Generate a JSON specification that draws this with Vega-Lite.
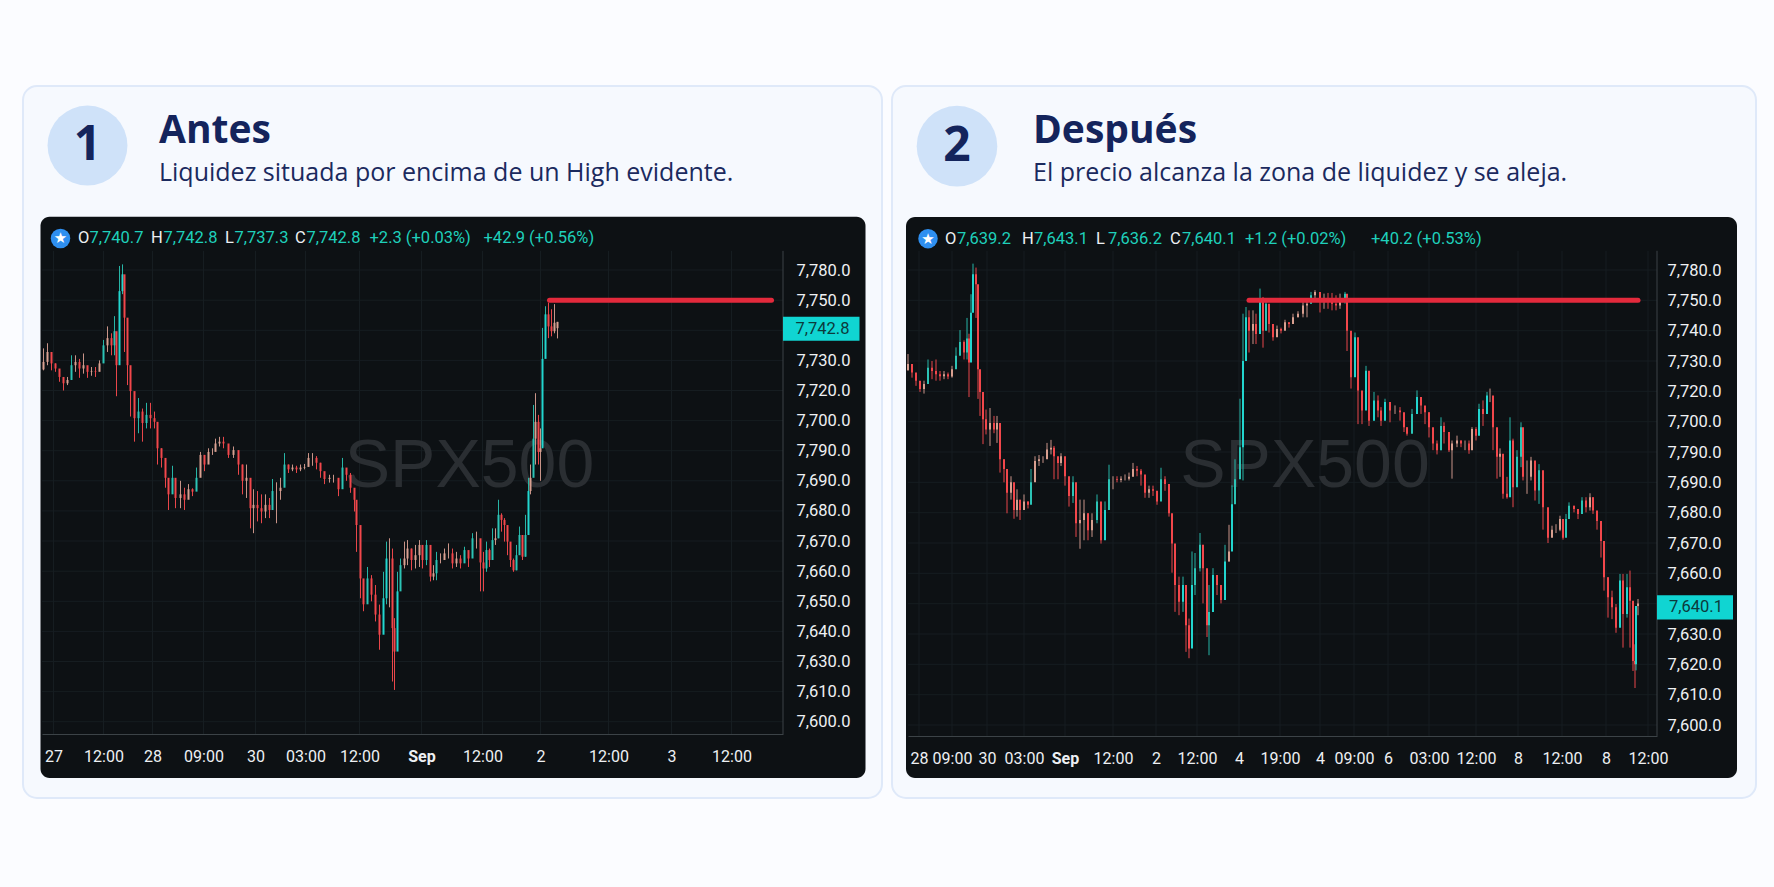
{"$schema":"https://vega.github.io/schema/vega-lite/v6.json","background":"#fbfcff","padding":{"left":22,"top":85,"right":21,"bottom":90},"spacing":8,
"config":{"axis":{"grid":false,"ticks":false,"title":null,"labelColor":"#eef0f3","labelFont":"Roboto","labelOverlap":false,"labelBound":false,"labelFlush":false,"domainColor":"#3c4347"},"text":{"font":"Roboto"}},
"data":{"values":[{"panel":"card"}]},
"datasets":{
"gy1":[{"v":7600},{"v":7610},{"v":7630},{"v":7640},{"v":7650},{"v":7660},{"v":7670},{"v":7680},{"v":7690},{"v":7695},{"v":7700},{"v":7720},{"v":7730},{"v":7740},{"v":7750},{"v":7780}],
"gx1":[{"v":13},{"v":63},{"v":112},{"v":163},{"v":215},{"v":265},{"v":319},{"v":381},{"v":442},{"v":500},{"v":568},{"v":631},{"v":691}],
"gy2":[{"v":7600},{"v":7610},{"v":7620},{"v":7630},{"v":7640},{"v":7660},{"v":7670},{"v":7680},{"v":7690},{"v":7695},{"v":7700},{"v":7720},{"v":7730},{"v":7740},{"v":7750},{"v":7780}],
"gx2":[{"v":12},{"v":45},{"v":80},{"v":117},{"v":158},{"v":206},{"v":249},{"v":290},{"v":332},{"v":373},{"v":413},{"v":447},{"v":481},{"v":522},{"v":569},{"v":611},{"v":655},{"v":699},{"v":741}],
"p1":[
{"t":3,"o":7727,"h":7734,"l":7726.7,"c":7729.5},{"t":7,"o":7729.5,"h":7735.7,"l":7728.4,"c":7732.8},{"t":11,"o":7732.8,"h":7731.7,"l":7726.7,"c":7729},{"t":15,"o":7729,"h":7729,"l":7726.2,"c":7727.3},{"t":19,"o":7727.3,"h":7726.7,"l":7722.9,"c":7724.5},{"t":23,"o":7724.5,"h":7724.2,"l":7720,"c":7722.4},{"t":27,"o":7722.4,"h":7724.5,"l":7721.8,"c":7723.5},{"t":31,"o":7723.5,"h":7731.7,"l":7723.5,"c":7728.4},{"t":35,"o":7728.4,"h":7731.7,"l":7726.2,"c":7729.5},{"t":39,"o":7729.5,"h":7730.5,"l":7724.2,"c":7727.3},{"t":43,"o":7727.3,"h":7732.3,"l":7725.6,"c":7728.4},{"t":47,"o":7728.4,"h":7727.8,"l":7724.2,"c":7726.2},{"t":51,"o":7726.2,"h":7727.8,"l":7724.9,"c":7726.4},{"t":55,"o":7726.4,"h":7727.8,"l":7724.5,"c":7726.2},{"t":59,"o":7726.2,"h":7730,"l":7727,"c":7729},{"t":63,"o":7729,"h":7736.8,"l":7730,"c":7735},{"t":67,"o":7735,"h":7741.3,"l":7732.8,"c":7737.4},{"t":71,"o":7737.4,"h":7739,"l":7731.7,"c":7735},{"t":74,"o":7735,"h":7744.7,"l":7731.7,"c":7739.7},{"t":76,"o":7739.7,"h":7734,"l":7716.2,"c":7728.4},{"t":79,"o":7728.4,"h":7784,"l":7745.3,"c":7759},{"t":82,"o":7759,"h":7785.6,"l":7756,"c":7775.7},{"t":84,"o":7775.7,"h":7759,"l":7732.8,"c":7744.2},{"t":87,"o":7744.2,"h":7734,"l":7721.8,"c":7728.4},{"t":90,"o":7728.4,"h":7723.5,"l":7702.7,"c":7719.6},{"t":94,"o":7719.6,"h":7715,"l":7696.5,"c":7701.6},{"t":98,"o":7701.6,"h":7715,"l":7697.9,"c":7706},{"t":102,"o":7706,"h":7708,"l":7696.5,"c":7699.6},{"t":106,"o":7699.6,"h":7711.8,"l":7698.7,"c":7703.8},{"t":110,"o":7703.8,"h":7711.8,"l":7698.7,"c":7701.6},{"t":114,"o":7701.6,"h":7706,"l":7698.7,"c":7699.8},{"t":117,"o":7699.8,"h":7697,"l":7692.7,"c":7695.4},{"t":121,"o":7695.4,"h":7695.4,"l":7692.2,"c":7693.8},{"t":125,"o":7693.8,"h":7692.7,"l":7687.7,"c":7690.5},{"t":128,"o":7690.5,"h":7690,"l":7680.3,"c":7685.5},{"t":132,"o":7685.5,"h":7692.5,"l":7686.6,"c":7690.5},{"t":135,"o":7690.5,"h":7688.9,"l":7680.9,"c":7684.3},{"t":140,"o":7684.3,"h":7690,"l":7680.9,"c":7685.5},{"t":144,"o":7685.5,"h":7687.7,"l":7680.3,"c":7683.7},{"t":148,"o":7683.7,"h":7688.9,"l":7685.5,"c":7687.2},{"t":152,"o":7687.2,"h":7687.5,"l":7684.9,"c":7686.4},{"t":156,"o":7686.4,"h":7692.2,"l":7686.6,"c":7690.5},{"t":160,"o":7690.5,"h":7694.8,"l":7692.2,"c":7694.3},{"t":164,"o":7694.3,"h":7694.3,"l":7691.6,"c":7692.7},{"t":168,"o":7692.7,"h":7695.4,"l":7694.3,"c":7694.8},{"t":172,"o":7694.8,"h":7695.4,"l":7694.3,"c":7694.8},{"t":175,"o":7694.8,"h":7697,"l":7695.4,"c":7696.2},{"t":179,"o":7696.2,"h":7697.3,"l":7695.7,"c":7696.5},{"t":183,"o":7696.5,"h":7697.3,"l":7695.4,"c":7696.2},{"t":188,"o":7696.2,"h":7695.1,"l":7693.8,"c":7694.3},{"t":193,"o":7694.3,"h":7695.7,"l":7693.8,"c":7695.1},{"t":198,"o":7695.1,"h":7694.8,"l":7691,"c":7692.7},{"t":202,"o":7692.7,"h":7692.7,"l":7685.5,"c":7690},{"t":206,"o":7690,"h":7692.7,"l":7684.3,"c":7690.5},{"t":210,"o":7690.5,"h":7687.7,"l":7674.2,"c":7680.9},{"t":213,"o":7680.9,"h":7687.2,"l":7672.6,"c":7682},{"t":217,"o":7682,"h":7686.6,"l":7676.5,"c":7680.9},{"t":221,"o":7680.9,"h":7685.5,"l":7675.9,"c":7679.8},{"t":225,"o":7679.8,"h":7685.5,"l":7677.6,"c":7682},{"t":229,"o":7682,"h":7684.3,"l":7677.6,"c":7680.3},{"t":232,"o":7680.3,"h":7690.3,"l":7680.9,"c":7686.6},{"t":236,"o":7686.6,"h":7689.5,"l":7675.9,"c":7686.6},{"t":240,"o":7686.6,"h":7690.5,"l":7683.7,"c":7687.7},{"t":244,"o":7687.7,"h":7694.6,"l":7690.5,"c":7692.7},{"t":248,"o":7692.7,"h":7692.7,"l":7691.3,"c":7691.9},{"t":252,"o":7691.9,"h":7692.7,"l":7691.6,"c":7692.2},{"t":256,"o":7692.2,"h":7692.5,"l":7691.3,"c":7691.9},{"t":260,"o":7691.9,"h":7692.7,"l":7691.6,"c":7692.2},{"t":264,"o":7692.2,"h":7692.8,"l":7691.9,"c":7692.3},{"t":268,"o":7692.3,"h":7694.6,"l":7692.5,"c":7693.8},{"t":272,"o":7693.8,"h":7694.6,"l":7692.5,"c":7693.8},{"t":276,"o":7693.8,"h":7694.1,"l":7691.9,"c":7693},{"t":280,"o":7693,"h":7693,"l":7690.5,"c":7691.6},{"t":284,"o":7691.6,"h":7691.3,"l":7688.9,"c":7690.3},{"t":289,"o":7690.3,"h":7691,"l":7689.4,"c":7690.5},{"t":293,"o":7690.5,"h":7691,"l":7689.4,"c":7690.5},{"t":298,"o":7690.5,"h":7689.4,"l":7684.9,"c":7687.2},{"t":302,"o":7687.2,"h":7693.8,"l":7688.9,"c":7692.2},{"t":306,"o":7692.2,"h":7691.6,"l":7690,"c":7691},{"t":310,"o":7691,"h":7691.3,"l":7686,"c":7687.7},{"t":314,"o":7687.7,"h":7686.6,"l":7679.8,"c":7683.7},{"t":316,"o":7683.7,"h":7680.9,"l":7666.4,"c":7675.3},
{"t":320,"o":7675.3,"h":7669.8,"l":7651,"c":7657.6},{"t":323,"o":7657.6,"h":7655.4,"l":7646.7,"c":7649},{"t":327,"o":7649,"h":7661.4,"l":7650.5,"c":7657.6},{"t":331,"o":7657.6,"h":7658.7,"l":7650,"c":7652.2},{"t":335,"o":7652.2,"h":7655.4,"l":7643.3,"c":7645.6},{"t":339,"o":7645.6,"h":7648.9,"l":7633.9,"c":7638.9},{"t":343,"o":7638.9,"h":7659.8,"l":7644.4,"c":7651},{"t":346,"o":7651,"h":7669.8,"l":7649,"c":7664.2},{"t":349,"o":7664.2,"h":7670.9,"l":7648,"c":7664.2},{"t":352,"o":7664.2,"h":7667.5,"l":7616.7,"c":7641.1},{"t":354,"o":7641.1,"h":7644.4,"l":7611.1,"c":7633.3},{"t":357,"o":7633.3,"h":7659.8,"l":7635.6,"c":7653.3},{"t":360,"o":7653.3,"h":7664.2,"l":7655.4,"c":7662},{"t":364,"o":7662,"h":7669.8,"l":7660.9,"c":7664.2},{"t":367,"o":7664.2,"h":7670.3,"l":7662,"c":7667.5},{"t":371,"o":7667.5,"h":7667.5,"l":7660.3,"c":7663.7},{"t":375,"o":7663.7,"h":7668.7,"l":7660.9,"c":7665.3},{"t":379,"o":7665.3,"h":7670.3,"l":7661.4,"c":7668.7},{"t":382,"o":7668.7,"h":7667,"l":7660.9,"c":7663.7},{"t":386,"o":7663.7,"h":7670.3,"l":7662,"c":7668.7},{"t":390,"o":7668.7,"h":7666.4,"l":7656.6,"c":7658.2},{"t":393,"o":7658.2,"h":7662,"l":7657,"c":7659.3},{"t":396,"o":7659.3,"h":7666.4,"l":7657,"c":7663.7},{"t":400,"o":7663.7,"h":7665.9,"l":7662.6,"c":7663.7},{"t":404,"o":7663.7,"h":7667.5,"l":7663.7,"c":7665.9},{"t":408,"o":7665.9,"h":7669.2,"l":7664.2,"c":7665.9},{"t":412,"o":7665.9,"h":7667.5,"l":7660.9,"c":7662.6},{"t":416,"o":7662.6,"h":7666.4,"l":7661.4,"c":7664.2},{"t":420,"o":7664.2,"h":7665.3,"l":7660.9,"c":7662.6},{"t":424,"o":7662.6,"h":7668.1,"l":7663.2,"c":7667},{"t":428,"o":7667,"h":7666.4,"l":7661.4,"c":7664.2},{"t":432,"o":7664.2,"h":7672.6,"l":7667.5,"c":7670.9},{"t":436,"o":7670.9,"h":7673.1,"l":7667.5,"c":7670.9},{"t":440,"o":7670.9,"h":7669.8,"l":7653.3,"c":7662.9},{"t":443,"o":7662.9,"h":7666.4,"l":7653.3,"c":7660.9},{"t":446,"o":7660.9,"h":7669.8,"l":7659.8,"c":7667},{"t":449,"o":7667,"h":7667.5,"l":7661.4,"c":7663.7},{"t":452,"o":7663.7,"h":7674.2,"l":7665.9,"c":7670.3},{"t":455,"o":7670.3,"h":7674.2,"l":7668.7,"c":7670.9},{"t":458,"o":7670.9,"h":7683.7,"l":7670.9,"c":7678.7},{"t":461,"o":7678.7,"h":7679.2,"l":7673.1,"c":7677},{"t":464,"o":7677,"h":7677.6,"l":7669.8,"c":7675.3},{"t":467,"o":7675.3,"h":7674.2,"l":7665.3,"c":7669.8},{"t":470,"o":7669.8,"h":7668.7,"l":7661.4,"c":7663.7},{"t":473,"o":7663.7,"h":7664.2,"l":7659.8,"c":7660.3},{"t":476,"o":7660.3,"h":7668.7,"l":7660.3,"c":7665.3},{"t":479,"o":7665.3,"h":7674.8,"l":7666.4,"c":7672},{"t":482,"o":7672,"h":7668.7,"l":7663.7,"c":7664.8},{"t":485,"o":7664.8,"h":7678.7,"l":7664.8,"c":7672},{"t":488,"o":7672,"h":7690.5,"l":7677.6,"c":7686.6},{"t":490,"o":7686.6,"h":7692.7,"l":7685.5,"c":7690.5},{"t":493,"o":7690.5,"h":7710.4,"l":7692.7,"c":7697},{"t":495,"o":7697,"h":7718.2,"l":7692.7,"c":7699.8},{"t":498,"o":7699.8,"h":7703.8,"l":7692.7,"c":7694.8},{"t":500,"o":7694.8,"h":7698.7,"l":7690,"c":7695.4},{"t":502,"o":7695.4,"h":7740.8,"l":7699.8,"c":7730.5},{"t":505,"o":7730.5,"h":7748,"l":7739,"c":7745.3},{"t":508,"o":7745.3,"h":7749.2,"l":7737.4,"c":7741.3},{"t":511,"o":7741.3,"h":7747,"l":7738,"c":7739.7},{"t":514,"o":7739.7,"h":7748.7,"l":7739,"c":7742.5},{"t":517,"o":7740.7,"h":7742.8,"l":7737.3,"c":7742.8}],
"p2":[
{"t":1,"o":7727,"h":7732.3,"l":7726.7,"c":7729},{"t":5,"o":7729,"h":7728.4,"l":7724.5,"c":7726.2},{"t":9,"o":7726.2,"h":7725.6,"l":7721.8,"c":7723.5},{"t":13,"o":7723.5,"h":7722.4,"l":7719.6,"c":7720.8},{"t":17,"o":7720.8,"h":7723.5,"l":7718.5,"c":7722.4},{"t":21,"o":7722.4,"h":7730.5,"l":7725,"c":7727.8},{"t":25,"o":7727.8,"h":7730,"l":7724,"c":7726.7},{"t":29,"o":7726.7,"h":7730.5,"l":7723.5,"c":7725.6},{"t":33,"o":7725.6,"h":7726.7,"l":7723.5,"c":7725},{"t":37,"o":7725,"h":7726.7,"l":7724,"c":7725.6},{"t":41,"o":7725.6,"h":7726.2,"l":7724,"c":7724.9},{"t":45,"o":7724.9,"h":7728.4,"l":7724.5,"c":7727.3},{"t":49,"o":7727.3,"h":7734.5,"l":7727.8,"c":7731.7},{"t":53,"o":7731.7,"h":7740.2,"l":7732.8,"c":7736.3},{"t":57,"o":7736.3,"h":7736.8,"l":7730.5,"c":7732.8},{"t":60,"o":7732.8,"h":7744.2,"l":7730.5,"c":7737.4},{"t":62,"o":7737.4,"h":7739,"l":7716.2,"c":7729.5},{"t":64,"o":7729.5,"h":7756,"l":7737.4,"c":7745.9},{"t":66,"o":7745.9,"h":7786.3,"l":7749.2,"c":7775.7},{"t":69,"o":7775.7,"h":7782.4,"l":7744.2,"c":7766},{"t":71,"o":7766,"h":7746.4,"l":7715,"c":7727.3},{"t":73,"o":7727.3,"h":7724.2,"l":7703.8,"c":7719.6},{"t":76,"o":7719.6,"h":7715,"l":7696.3,"c":7701.6},{"t":79,"o":7701.6,"h":7708,"l":7697.9,"c":7698.7},{"t":83,"o":7698.7,"h":7709,"l":7696,"c":7699.8},{"t":87,"o":7699.8,"h":7703.8,"l":7698.1,"c":7698.7},{"t":90,"o":7698.7,"h":7703.8,"l":7696.5,"c":7699.8},{"t":93,"o":7699.8,"h":7696.5,"l":7691.6,"c":7693.8},{"t":97,"o":7693.8,"h":7693.8,"l":7690,"c":7692.2},{"t":100,"o":7692.2,"h":7690.5,"l":7679.8,"c":7686.6},{"t":104,"o":7686.6,"h":7691,"l":7684.3,"c":7690},{"t":107,"o":7690,"h":7684.3,"l":7678,"c":7680.9},{"t":110,"o":7680.9,"h":7687.7,"l":7678.7,"c":7684.3},{"t":113,"o":7684.3,"h":7684.3,"l":7677.6,"c":7680.9},{"t":117,"o":7680.9,"h":7686,"l":7681.4,"c":7683.7},{"t":121,"o":7683.7,"h":7683.7,"l":7681.4,"c":7682.6},{"t":124,"o":7682.6,"h":7692.2,"l":7684.3,"c":7690},{"t":128,"o":7690,"h":7694.3,"l":7691.6,"c":7693.5},{"t":132,"o":7693.5,"h":7694.5,"l":7692.7,"c":7693.8},{"t":136,"o":7693.8,"h":7694.3,"l":7693.2,"c":7693.8},{"t":140,"o":7693.8,"h":7696.5,"l":7694.6,"c":7695.4},{"t":144,"o":7695.4,"h":7697,"l":7694.6,"c":7695.7},{"t":147,"o":7695.7,"h":7696,"l":7690.5,"c":7694.3},{"t":151,"o":7694.3,"h":7694,"l":7690.5,"c":7693.2},{"t":154,"o":7693.2,"h":7694.8,"l":7692.7,"c":7694.3},{"t":158,"o":7694.3,"h":7692.7,"l":7688.9,"c":7691},{"t":162,"o":7691,"h":7690,"l":7682,"c":7685.5},{"t":166,"o":7685.5,"h":7691,"l":7683.2,"c":7690},{"t":169,"o":7690,"h":7682,"l":7672,"c":7676.5},{"t":173,"o":7676.5,"h":7684.3,"l":7668.1,"c":7677.6},{"t":177,"o":7677.6,"h":7684.3,"l":7670.9,"c":7679.8},{"t":181,"o":7679.8,"h":7679.8,"l":7670.9,"c":7674.2},{"t":185,"o":7674.2,"h":7679.8,"l":7672,"c":7677.6},{"t":190,"o":7677.6,"h":7686,"l":7676.5,"c":7683.7},{"t":194,"o":7683.7,"h":7678.7,"l":7669.8,"c":7670.9},{"t":198,"o":7670.9,"h":7683.7,"l":7674.2,"c":7680.9},{"t":202,"o":7680.9,"h":7692.9,"l":7684.3,"c":7690.5},{"t":206,"o":7690.5,"h":7691,"l":7687.7,"c":7690.5},{"t":210,"o":7690.5,"h":7691,"l":7690,"c":7690.4},{"t":214,"o":7690.4,"h":7691,"l":7690,"c":7690.6},{"t":218,"o":7690.6,"h":7691.3,"l":7690.3,"c":7690.6},{"t":222,"o":7690.6,"h":7691.6,"l":7690.3,"c":7690.9},{"t":226,"o":7690.9,"h":7693.2,"l":7691,"c":7692.2},{"t":230,"o":7692.2,"h":7692.7,"l":7691,"c":7691.9},{"t":234,"o":7691.9,"h":7692.2,"l":7688.9,"c":7691.3},{"t":238,"o":7691.3,"h":7690.5,"l":7684.9,"c":7686.6},{"t":242,"o":7686.6,"h":7688.9,"l":7684.9,"c":7687.7},{"t":246,"o":7687.7,"h":7688.9,"l":7685.5,"c":7687.2},{"t":250,"o":7687.2,"h":7686.6,"l":7682.6,"c":7683.7},{"t":254,"o":7683.7,"h":7692.4,"l":7686.6,"c":7690.5},{"t":258,"o":7690.5,"h":7691,"l":7687.2,"c":7689.4},{"t":262,"o":7689.4,"h":7686.6,"l":7678.7,"c":7679.8},{"t":265,"o":7679.8,"h":7677.6,"l":7660.2,"c":7669.8},{"t":268,"o":7669.8,"h":7661.7,"l":7637.3,"c":7652.3},{"t":272,"o":7652.3,"h":7657.8,"l":7636.2,"c":7641.3},{"t":276,"o":7641.3,"h":7657.8,"l":7637.3,"c":7652.3},{"t":279,"o":7652.3,"h":7638.4,"l":7624.1,"c":7632.9},{"t":282,"o":7632.9,"h":7635.1,"l":7622,"c":7625.2},{"t":285,"o":7625.2,"h":7667.2,"l":7626.3,"c":7652.3},{"t":288,"o":7652.3,"h":7666.7,"l":7645.7,"c":7661.7},{"t":293,"o":7661.7,"h":7673.3,"l":7660.6,"c":7669.4},{"t":296,"o":7669.4,"h":7669.4,"l":7640.2,"c":7661.7},{"t":300,"o":7661.7,"h":7643.5,"l":7629,"c":7632.9},{"t":302,"o":7632.9,"h":7652.3,"l":7623,"c":7637.3},{"t":306,"o":7637.3,"h":7661.7,"l":7641.3,"c":7658.9},{"t":310,"o":7658.9,"h":7656.7,"l":7645.7,"c":7652.3},{"t":314,"o":7652.3,"h":7650,"l":7640.2,"c":7642.4},{"t":318,"o":7642.4,"h":7669.4,"l":7652.3,"c":7663.9},{"t":322,"o":7663.9,"h":7676,"l":7663.9,"c":7667.2},{"t":325,"o":7667.2,"h":7689,"l":7675,"c":7682.8},{"t":328,"o":7682.8,"h":7693.8,"l":7685.5,"c":7690.5},
{"t":333,"o":7690.5,"h":7715.1,"l":7692.5,"c":7695.8},{"t":336,"o":7695.8,"h":7745.6,"l":7690.3,"c":7730},{"t":339,"o":7730,"h":7747.8,"l":7738.9,"c":7744.4},{"t":342,"o":7744.4,"h":7746.7,"l":7732.8,"c":7740},{"t":346,"o":7740,"h":7746.7,"l":7735.6,"c":7742.2},{"t":349,"o":7742.2,"h":7745.6,"l":7735.6,"c":7738.9},{"t":353,"o":7738.9,"h":7761.6,"l":7744.4,"c":7750},{"t":356,"o":7750,"h":7753.3,"l":7734.4,"c":7740},{"t":359,"o":7740,"h":7750,"l":7744.4,"c":7748.9},{"t":362,"o":7748.9,"h":7745.6,"l":7739.4,"c":7742.2},{"t":366,"o":7742.2,"h":7740.6,"l":7736.7,"c":7737.8},{"t":370,"o":7737.8,"h":7741.7,"l":7739.4,"c":7740.6},{"t":374,"o":7740.6,"h":7741,"l":7739.1,"c":7740},{"t":378,"o":7740,"h":7743.6,"l":7741.7,"c":7742.8},{"t":382,"o":7742.8,"h":7742.8,"l":7741,"c":7742.2},{"t":386,"o":7742.2,"h":7745.6,"l":7743.3,"c":7744.4},{"t":391,"o":7744.4,"h":7746.4,"l":7744.4,"c":7745.6},{"t":396,"o":7745.6,"h":7749.4,"l":7744.4,"c":7748.3},{"t":400,"o":7748.3,"h":7751.7,"l":7744.4,"c":7748.9},{"t":404,"o":7748.9,"h":7758.3,"l":7748.9,"c":7755},{"t":408,"o":7755,"h":7760,"l":7750,"c":7758.3},{"t":413,"o":7758.3,"h":7755,"l":7746,"c":7749.4},{"t":417,"o":7749.4,"h":7756.6,"l":7747.2,"c":7750},{"t":421,"o":7750,"h":7757.3,"l":7747.2,"c":7749.4},{"t":425,"o":7749.4,"h":7757.3,"l":7746.7,"c":7748.9},{"t":429,"o":7748.9,"h":7755,"l":7746.7,"c":7748.3},{"t":433,"o":7748.3,"h":7756.6,"l":7747.2,"c":7749.4},{"t":438,"o":7749.4,"h":7758.3,"l":7748.9,"c":7756.6},{"t":440,"o":7756.6,"h":7748.9,"l":7733.3,"c":7740},{"t":444,"o":7740,"h":7734.4,"l":7720.9,"c":7724.6},{"t":448,"o":7724.6,"h":7739.4,"l":7727.8,"c":7737.8},{"t":451,"o":7737.8,"h":7730,"l":7699.6,"c":7720.3},{"t":455,"o":7720.3,"h":7718.4,"l":7699.6,"c":7707.3},{"t":459,"o":7707.3,"h":7728.4,"l":7714,"c":7726.8},{"t":462,"o":7726.8,"h":7720.3,"l":7699.3,"c":7700.7},{"t":467,"o":7700.7,"h":7719.6,"l":7702.9,"c":7714},{"t":471,"o":7714,"h":7717.3,"l":7702.9,"c":7707.3},{"t":474,"o":7707.3,"h":7709.6,"l":7699.3,"c":7700.7},{"t":478,"o":7700.7,"h":7715.1,"l":7702.9,"c":7712.9},{"t":483,"o":7712.9,"h":7711.8,"l":7699.9,"c":7707.3},{"t":488,"o":7707.3,"h":7710.7,"l":7705.1,"c":7707.3},{"t":493,"o":7707.3,"h":7709.6,"l":7700.7,"c":7706.2},{"t":497,"o":7706.2,"h":7702.9,"l":7698.3,"c":7699.1},{"t":500,"o":7699.1,"h":7699.1,"l":7697.7,"c":7698},{"t":505,"o":7698,"h":7708.4,"l":7699.6,"c":7705.1},{"t":510,"o":7705.1,"h":7720.3,"l":7707.3,"c":7716.2},{"t":514,"o":7716.2,"h":7715.1,"l":7705.1,"c":7710.7},{"t":518,"o":7710.7,"h":7708.4,"l":7699.6,"c":7706.2},{"t":522,"o":7706.2,"h":7706.2,"l":7697.4,"c":7699.1},{"t":526,"o":7699.1,"h":7698,"l":7695.3,"c":7696.4},{"t":530,"o":7696.4,"h":7696.9,"l":7694.6,"c":7695.3},{"t":534,"o":7695.3,"h":7702.9,"l":7695.3,"c":7699.3},{"t":537,"o":7699.3,"h":7699.9,"l":7696.4,"c":7698.3},{"t":542,"o":7698.3,"h":7696.9,"l":7695,"c":7695.3},{"t":545,"o":7695.3,"h":7696.9,"l":7690.6,"c":7696.4},{"t":550,"o":7696.4,"h":7697.7,"l":7695.8,"c":7696.9},{"t":554,"o":7696.9,"h":7696.9,"l":7695.8,"c":7696.4},{"t":558,"o":7696.4,"h":7696.9,"l":7695.3,"c":7696.4},{"t":562,"o":7696.4,"h":7696.9,"l":7694.7,"c":7695.3},{"t":565,"o":7695.3,"h":7699.1,"l":7696.9,"c":7698.8},{"t":569,"o":7698.8,"h":7699.1,"l":7696.9,"c":7697.7},{"t":572,"o":7697.7,"h":7711.8,"l":7699.6,"c":7708.4},{"t":576,"o":7708.4,"h":7714,"l":7699.3,"c":7705.1},{"t":580,"o":7705.1,"h":7719.6,"l":7710.7,"c":7717.3},{"t":583,"o":7717.3,"h":7720.9,"l":7712.9,"c":7717.3},{"t":586,"o":7717.3,"h":7714,"l":7695.3,"c":7699.1},{"t":590,"o":7699.1,"h":7697.4,"l":7690.6,"c":7694.2},{"t":593,"o":7694.2,"h":7695.6,"l":7690.9,"c":7694.7},{"t":596,"o":7694.7,"h":7692.5,"l":7684.6,"c":7686.2},{"t":600,"o":7686.2,"h":7690.9,"l":7684.6,"c":7685.1},{"t":603,"o":7685.1,"h":7702.9,"l":7688.4,"c":7696.9},{"t":606,"o":7696.9,"h":7697.2,"l":7681.8,"c":7688.4},{"t":610,"o":7688.4,"h":7695.3,"l":7689.6,"c":7694.2},{"t":614,"o":7694.2,"h":7699.9,"l":7692.5,"c":7699.1},{"t":616,"o":7699.1,"h":7698.3,"l":7690.3,"c":7690.9},{"t":620,"o":7690.9,"h":7693.6,"l":7686.2,"c":7690.9},{"t":624,"o":7690.9,"h":7694.2,"l":7690.3,"c":7693.6},{"t":628,"o":7693.6,"h":7692,"l":7684,"c":7687.3},{"t":632,"o":7687.3,"h":7693,"l":7682.9,"c":7692},{"t":636,"o":7692,"h":7690.9,"l":7674.4,"c":7681.8},{"t":641,"o":7681.8,"h":7679.6,"l":7670,"c":7671.7},{"t":645,"o":7671.7,"h":7675.7,"l":7672.8,"c":7674.4},{"t":649,"o":7674.4,"h":7676.2,"l":7673.3,"c":7674.4},{"t":653,"o":7674.4,"h":7679,"l":7673.9,"c":7677.9},{"t":656,"o":7677.9,"h":7677.9,"l":7671.1,"c":7671.7},{"t":659,"o":7671.7,"h":7679.6,"l":7675.7,"c":7677.9},{"t":662,"o":7677.9,"h":7683.4,"l":7680.7,"c":7682.3},{"t":667,"o":7682.3,"h":7682.3,"l":7680.1,"c":7681.2},{"t":671,"o":7681.2,"h":7680.7,"l":7677.9,"c":7679.6},{"t":675,"o":7679.6,"h":7685.1,"l":7680.7,"c":7684},{"t":679,"o":7684,"h":7685.1,"l":7680.1,"c":7681.8},{"t":683,"o":7681.8,"h":7686.4,"l":7680.7,"c":7685.1},{"t":686,"o":7685.1,"h":7685.1,"l":7679.6,"c":7680.7},{"t":690,"o":7680.7,"h":7680.1,"l":7674.4,"c":7677.3},{"t":694,"o":7677.3,"h":7675,"l":7665.2,"c":7670.7},{"t":697,"o":7670.7,"h":7668.5,"l":7648.6,"c":7657.4},{"t":701,"o":7657.4,"h":7657.4,"l":7635.4,"c":7644.2},{"t":705,"o":7644.2,"h":7648.6,"l":7634.9,"c":7638.8},{"t":709,"o":7638.8,"h":7639.9,"l":7630.4,"c":7632.1},{"t":713,"o":7632.1,"h":7659.6,"l":7635.4,"c":7655.2},{"t":716,"o":7655.2,"h":7659.6,"l":7625.5,"c":7636.6},{"t":720,"o":7636.6,"h":7659.6,"l":7635.4,"c":7650.8},{"t":723,"o":7650.8,"h":7660.9,"l":7625.5,"c":7642},{"t":726,"o":7642,"h":7631,"l":7617.8,"c":7621.1},{"t":728,"o":7621.1,"h":7626.6,"l":7612.2,"c":7620},{"t":729,"o":7620,"h":7636,"l":7618,"c":7639.2},{"t":731,"o":7639.2,"h":7643.1,"l":7636.2,"c":7640.1}]
},
"hconcat":[
{"width":859,"height":712,"view":{"fill":"#f6f9fe","stroke":"#dfe9f9","strokeWidth":2,"cornerRadius":14},
"layer":[
{"mark":{"type":"rect","fill":"#0d1114","cornerRadius":9},"encoding":{"x":{"datum":0,"type":"quantitative","scale":{"domain":[1.5,742.5],"range":[19,760],"nice":false,"zero":false},"axis":{"orient":"bottom","zindex":1,"offset":-64,"labelPadding":14,"labelFontSize":16,"values":[13,63,112,163,215,265,319,381,442,500,568,631,691],"labelExpr":"{'13':'27','63':'12:00','112':'28','163':'09:00','215':'30','265':'03:00','319':'12:00','381':'Sep','442':'12:00','500':'2','568':'12:00','631':'3','691':'12:00'}[datum.value]","labelFontWeight":{"condition":{"test":"datum.value==381","value":"bold"},"value":"normal"}}},"x2":{"datum":825},"y":{"datum":7581.3,"type":"quantitative","scale":{"nice":false,"zero":false,"domain":[7600,7610,7630,7640,7650,7660,7670,7680,7690,7695,7700,7720,7730,7740,7750,7780],"range":[635.7,605.6,575.5,545.4,515.3,485.2,455,424.9,394.8,364.7,334.6,304.5,274.4,244.3,214.2,184]},"axis":{"orient":"right","zindex":1,"offset":-99,"labelPadding":13,"labelFontSize":16.5,"domain":false,"values":[7600,7610,7630,7640,7650,7660,7670,7680,7690,7695,7700,7720,7730,7740,7750,7780],"labelExpr":"datum.value==7695?'7,790.0':datum.value==7740?'':format(datum.value,',.1f')"}},"y2":{"datum":7832.8}}},
{"data":{"name":"gy1"},"mark":{"type":"rule","stroke":"#161d21","strokeWidth":1},"encoding":{"y":{"field":"v","type":"quantitative"},"x":{"datum":1.5},"x2":{"datum":742.5}}},
{"data":{"name":"gx1"},"mark":{"type":"rule","stroke":"#161d21","strokeWidth":1},"encoding":{"x":{"field":"v","type":"quantitative"},"y":{"datum":7799},"y2":{"datum":7595.9}}},
{"mark":{"type":"rule","stroke":"#3c4347","strokeWidth":1},"encoding":{"x":{"datum":742.5},"y":{"datum":7799},"y2":{"datum":7595.9}}},
{"mark":{"type":"text","text":"SPX500","font":"Liberation Sans","fontSize":68,"fill":"#2a2e32","align":"center","baseline":"middle"},"encoding":{"x":{"datum":429},"y":{"datum":7692.3}}},
{"data":{"name":"p1"},"mark":{"type":"rule","strokeWidth":1},"encoding":{"x":{"field":"t","type":"quantitative"},"y":{"field":"l","type":"quantitative"},"y2":{"field":"h"},"color":{"condition":[{"test":"datum.c<datum.o","value":"#e9464a"},{"test":"datum.c-datum.o>=4","value":"#27b5a6"}],"value":"#c99488"}}},
{"data":{"name":"p1"},"mark":{"type":"rule","strokeWidth":2},"encoding":{"x":{"field":"t","type":"quantitative"},"y":{"field":"o","type":"quantitative"},"y2":{"field":"c"},"color":{"condition":[{"test":"datum.c<datum.o","value":"#f2474b"},{"test":"datum.c-datum.o>=10","value":"#22d6cf"},{"test":"datum.c-datum.o>=4","value":"#2cc4b6"}],"value":"#d9a090"}}},
{"data":{"values":[{"a":509,"b":731,"p":7750}]},"mark":{"type":"rule","stroke":"#e32a3c","strokeWidth":5,"strokeCap":"round"},"encoding":{"x":{"field":"a","type":"quantitative"},"x2":{"field":"b"},"y":{"field":"p","type":"quantitative"}}},
{"mark":{"type":"rect","fill":"#10d5d2"},"encoding":{"x":{"datum":742.5},"x2":{"datum":819},"y":{"datum":7736.5},"y2":{"datum":7744.5}}},
{"mark":{"type":"text","text":"7,742.8","fontSize":16.5,"fill":"#0c3a3c","align":"left","baseline":"middle"},"encoding":{"x":{"datum":755},"y":{"datum":7740.5}}},
{"mark":{"type":"point","shape":"circle","filled":true,"size":6385,"fill":"#cfe2f9","opacity":1},"encoding":{"x":{"datum":47},"y":{"datum":7903.6}}},
{"mark":{"type":"text","text":"1","font":"Open Sans","fontWeight":"bold","fontSize":48,"fill":"#14245c","align":"center","baseline":"middle"},"encoding":{"x":{"datum":47},"y":{"datum":7903}}},
{"mark":{"type":"text","text":"Antes","font":"Open Sans","fontWeight":"bold","fontSize":39,"fill":"#14245c","align":"left","baseline":"middle"},"encoding":{"x":{"datum":118.5},"y":{"datum":7918.5}}},
{"mark":{"type":"text","text":"Liquidez situada por encima de un High evidente.","font":"Open Sans","fontSize":25,"fill":"#1b2a5e","align":"left","baseline":"middle"},"encoding":{"x":{"datum":118.5},"y":{"datum":7876.7}}},
{"mark":{"type":"point","shape":"circle","filled":true,"size":380,"fill":"#2e8ff0","opacity":1},"encoding":{"x":{"datum":20},"y":{"datum":7811.3}}},
{"mark":{"type":"text","text":"★","font":"DejaVu Sans","fontSize":15,"fill":"#ffffff","align":"center","baseline":"middle"},"encoding":{"x":{"datum":20},"y":{"datum":7811.3}}},
{"mark":{"type":"text","text":"O","fontSize":16.5,"fill":"#eceff1","baseline":"middle","align":"left"},"encoding":{"x":{"datum":37.5},"y":{"datum":7811.3}}},
{"mark":{"type":"text","text":"7,740.7","fontSize":16.5,"fill":"#1fd0bb","baseline":"middle","align":"left"},"encoding":{"x":{"datum":49},"y":{"datum":7811.3}}},
{"mark":{"type":"text","text":"H","fontSize":16.5,"fill":"#eceff1","baseline":"middle","align":"left"},"encoding":{"x":{"datum":110.6},"y":{"datum":7811.3}}},
{"mark":{"type":"text","text":"7,742.8","fontSize":16.5,"fill":"#1fd0bb","baseline":"middle","align":"left"},"encoding":{"x":{"datum":123},"y":{"datum":7811.3}}},
{"mark":{"type":"text","text":"L","fontSize":16.5,"fill":"#eceff1","baseline":"middle","align":"left"},"encoding":{"x":{"datum":184.5},"y":{"datum":7811.3}}},
{"mark":{"type":"text","text":"7,737.3","fontSize":16.5,"fill":"#1fd0bb","baseline":"middle","align":"left"},"encoding":{"x":{"datum":194},"y":{"datum":7811.3}}},
{"mark":{"type":"text","text":"C","fontSize":16.5,"fill":"#eceff1","baseline":"middle","align":"left"},"encoding":{"x":{"datum":254.5},"y":{"datum":7811.3}}},
{"mark":{"type":"text","text":"7,742.8","fontSize":16.5,"fill":"#1fd0bb","baseline":"middle","align":"left"},"encoding":{"x":{"datum":266},"y":{"datum":7811.3}}},
{"mark":{"type":"text","text":"+2.3 (+0.03%)","fontSize":16.5,"fill":"#1fd0bb","baseline":"middle","align":"left"},"encoding":{"x":{"datum":329},"y":{"datum":7811.3}}},
{"mark":{"type":"text","text":"+42.9 (+0.56%)","fontSize":16.5,"fill":"#1fd0bb","baseline":"middle","align":"left"},"encoding":{"x":{"datum":443},"y":{"datum":7811.3}}}
]},
{"width":864,"height":712,"view":{"fill":"#f6f9fe","stroke":"#dfe9f9","strokeWidth":2,"cornerRadius":14},
"layer":[
{"mark":{"type":"rect","fill":"#0d1114","cornerRadius":9},"encoding":{"x":{"datum":-1,"type":"quantitative","scale":{"domain":[1,750],"range":[16,765],"nice":false,"zero":false},"axis":{"orient":"bottom","zindex":1,"offset":-62,"labelPadding":14,"labelFontSize":16,"values":[12,45,80,117,158,206,249,290,332,373,413,447,481,522,569,611,655,699,741],"labelExpr":"{'12':'28','45':'09:00','80':'30','117':'03:00','158':'Sep','206':'12:00','249':'2','290':'12:00','332':'4','373':'19:00','413':'4','447':'09:00','481':'6','522':'03:00','569':'12:00','611':'8','655':'12:00','699':'8','741':'12:00'}[datum.value]","labelFontWeight":{"condition":{"test":"datum.value==158","value":"bold"},"value":"normal"}}},"x2":{"datum":830},"y":{"datum":7582.5,"type":"quantitative","scale":{"nice":false,"zero":false,"domain":[7600,7610,7620,7630,7640,7660,7670,7680,7690,7695,7700,7720,7730,7740,7750,7780],"range":[639,608.7,578.3,548,517.7,487.3,457,426.7,396.3,366,335.7,305.3,275,244.7,214.3,184]},"axis":{"orient":"right","zindex":1,"offset":-99,"labelPadding":10,"labelFontSize":16.5,"domain":false,"values":[7600,7610,7620,7630,7640,7660,7670,7680,7690,7695,7700,7720,7730,7740,7750,7780],"labelExpr":"datum.value==7695?'7,790.0':datum.value==7640?'':format(datum.value,',.1f')"}},"y2":{"datum":7832.4}}},
{"data":{"name":"gy2"},"mark":{"type":"rule","stroke":"#161d21","strokeWidth":1},"encoding":{"y":{"field":"v","type":"quantitative"},"x":{"datum":1},"x2":{"datum":750}}},
{"data":{"name":"gx2"},"mark":{"type":"rule","stroke":"#161d21","strokeWidth":1},"encoding":{"x":{"field":"v","type":"quantitative"},"y":{"datum":7799},"y2":{"datum":7596.4}}},
{"mark":{"type":"rule","stroke":"#3c4347","strokeWidth":1},"encoding":{"x":{"datum":750},"y":{"datum":7799},"y2":{"datum":7596.4}}},
{"mark":{"type":"text","text":"SPX500","font":"Liberation Sans","fontSize":68,"fill":"#2a2e32","align":"center","baseline":"middle"},"encoding":{"x":{"datum":398},"y":{"datum":7692.5}}},
{"data":{"name":"p2"},"mark":{"type":"rule","strokeWidth":1},"encoding":{"x":{"field":"t","type":"quantitative"},"y":{"field":"l","type":"quantitative"},"y2":{"field":"h"},"color":{"condition":[{"test":"datum.c<datum.o","value":"#e9464a"},{"test":"datum.c-datum.o>=4","value":"#27b5a6"}],"value":"#c99488"}}},
{"data":{"name":"p2"},"mark":{"type":"rule","strokeWidth":2},"encoding":{"x":{"field":"t","type":"quantitative"},"y":{"field":"o","type":"quantitative"},"y2":{"field":"c"},"color":{"condition":[{"test":"datum.c<datum.o","value":"#f2474b"},{"test":"datum.c-datum.o>=10","value":"#22d6cf"},{"test":"datum.c-datum.o>=4","value":"#2cc4b6"}],"value":"#d9a090"}}},
{"data":{"values":[{"a":342,"b":731,"p":7750}]},"mark":{"type":"rule","stroke":"#e32a3c","strokeWidth":5,"strokeCap":"round"},"encoding":{"x":{"field":"a","type":"quantitative"},"x2":{"field":"b"},"y":{"field":"p","type":"quantitative"}}},
{"mark":{"type":"rect","fill":"#10d5d2"},"encoding":{"x":{"datum":750},"x2":{"datum":826},"y":{"datum":7634.8},"y2":{"datum":7645.5}}},
{"mark":{"type":"text","text":"7,640.1","fontSize":16.5,"fill":"#0c3a3c","align":"left","baseline":"middle"},"encoding":{"x":{"datum":762},"y":{"datum":7638.8}}},
{"mark":{"type":"point","shape":"circle","filled":true,"size":6500,"fill":"#cfe2f9","opacity":1},"encoding":{"x":{"datum":50},"y":{"datum":7902.6}}},
{"mark":{"type":"text","text":"2","font":"Open Sans","fontWeight":"bold","fontSize":48,"fill":"#14245c","align":"center","baseline":"middle"},"encoding":{"x":{"datum":50},"y":{"datum":7902}}},
{"mark":{"type":"text","text":"Después","font":"Open Sans","fontWeight":"bold","fontSize":39,"fill":"#14245c","align":"left","baseline":"middle"},"encoding":{"x":{"datum":126},"y":{"datum":7917.5}}},
{"mark":{"type":"text","text":"El precio alcanza la zona de liquidez y se aleja.","font":"Open Sans","fontSize":25,"fill":"#1b2a5e","align":"left","baseline":"middle"},"encoding":{"x":{"datum":126},"y":{"datum":7876}}},
{"mark":{"type":"point","shape":"circle","filled":true,"size":380,"fill":"#2e8ff0","opacity":1},"encoding":{"x":{"datum":21},"y":{"datum":7811}}},
{"mark":{"type":"text","text":"★","font":"DejaVu Sans","fontSize":15,"fill":"#ffffff","align":"center","baseline":"middle"},"encoding":{"x":{"datum":21},"y":{"datum":7811}}},
{"mark":{"type":"text","text":"O","fontSize":16.5,"fill":"#eceff1","baseline":"middle","align":"left"},"encoding":{"x":{"datum":38},"y":{"datum":7811}}},
{"mark":{"type":"text","text":"7,639.2","fontSize":16.5,"fill":"#1fd0bb","baseline":"middle","align":"left"},"encoding":{"x":{"datum":50},"y":{"datum":7811}}},
{"mark":{"type":"text","text":"H","fontSize":16.5,"fill":"#eceff1","baseline":"middle","align":"left"},"encoding":{"x":{"datum":115},"y":{"datum":7811}}},
{"mark":{"type":"text","text":"7,643.1","fontSize":16.5,"fill":"#1fd0bb","baseline":"middle","align":"left"},"encoding":{"x":{"datum":127},"y":{"datum":7811}}},
{"mark":{"type":"text","text":"L","fontSize":16.5,"fill":"#eceff1","baseline":"middle","align":"left"},"encoding":{"x":{"datum":189},"y":{"datum":7811}}},
{"mark":{"type":"text","text":"7,636.2","fontSize":16.5,"fill":"#1fd0bb","baseline":"middle","align":"left"},"encoding":{"x":{"datum":201},"y":{"datum":7811}}},
{"mark":{"type":"text","text":"C","fontSize":16.5,"fill":"#eceff1","baseline":"middle","align":"left"},"encoding":{"x":{"datum":263},"y":{"datum":7811}}},
{"mark":{"type":"text","text":"7,640.1","fontSize":16.5,"fill":"#1fd0bb","baseline":"middle","align":"left"},"encoding":{"x":{"datum":275},"y":{"datum":7811}}},
{"mark":{"type":"text","text":"+1.2 (+0.02%)","fontSize":16.5,"fill":"#1fd0bb","baseline":"middle","align":"left"},"encoding":{"x":{"datum":338},"y":{"datum":7811}}},
{"mark":{"type":"text","text":"+40.2 (+0.53%)","fontSize":16.5,"fill":"#1fd0bb","baseline":"middle","align":"left"},"encoding":{"x":{"datum":464},"y":{"datum":7811}}}
]}
]}
